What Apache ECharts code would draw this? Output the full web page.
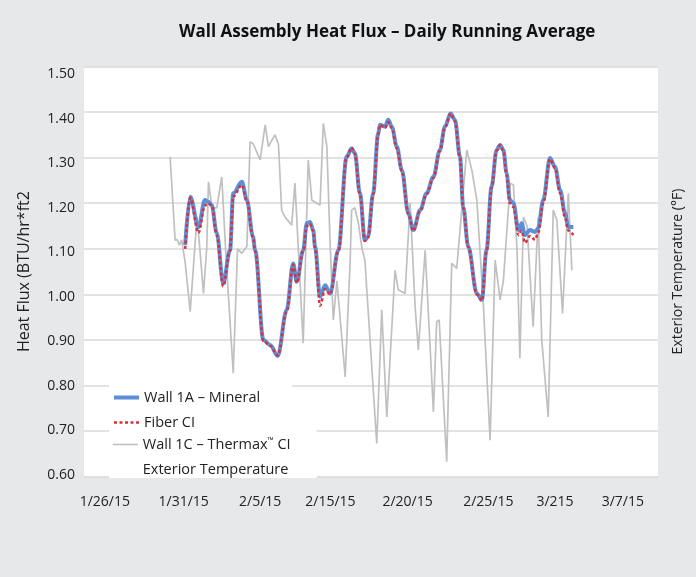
<!DOCTYPE html>
<html>
<head>
<meta charset="utf-8">
<script src="https://cdn.jsdelivr.net/npm/echarts@6/dist/echarts.min.js"></script>
<style>html,body{margin:0;padding:0;background:#e7e8ea;}#c{width:696px;height:577px;}</style>
</head>
<body>
<div id="c"></div>
<script>
// x is a running sample index (0..160) along the time axis
const xTickPos = [5.8, 27.8, 49.1, 68.7, 90.2, 112.7, 131.3, 150.2];
const xTickLabels = ['1/26/15', '1/31/15', '2/5/15', '2/15/15', '2/20/15', '2/25/15', '3/215', '3/7/15'];

const wall1aX = [28.2, 29.6, 31.9, 33.7, 34.6, 35.6, 37.0, 38.8, 40.7, 41.6, 44.0, 45.4, 47.1, 47.7, 50.0, 51.9, 54.0, 56.5, 58.3, 59.3, 61.1, 62.1, 63.0, 63.9, 64.4, 65.8, 67.2, 68.6, 70.9, 73.2, 74.6, 75.5, 76.9, 78.3, 79.2, 80.6, 82.0, 82.5, 83.9, 84.8, 85.8, 87.2, 88.6, 90.4, 91.8, 93.7, 95.5, 97.4, 99.2, 100.6, 102.2, 103.4, 104.8, 105.7, 107.1, 109.5, 110.9, 112.2, 113.6, 115.0, 116.0, 116.9, 117.8, 118.7, 119.7, 121.1, 122.0, 122.9, 124.3, 125.7, 126.6, 128.0, 129.9, 131.3, 132.7, 134.1, 135.0, 136.4];
const wall1aMineral = [1.108, 1.214, 1.148, 1.207, 1.203, 1.196, 1.135, 1.024, 1.097, 1.222, 1.247, 1.207, 1.127, 1.097, 0.900, 0.889, 0.865, 0.966, 1.068, 1.028, 1.097, 1.156, 1.159, 1.141, 1.105, 0.995, 1.020, 1.002, 1.097, 1.302, 1.320, 1.310, 1.222, 1.119, 1.127, 1.222, 1.353, 1.372, 1.368, 1.383, 1.368, 1.324, 1.273, 1.178, 1.141, 1.185, 1.222, 1.258, 1.317, 1.368, 1.397, 1.383, 1.302, 1.192, 1.105, 1.002, 0.988, 1.097, 1.236, 1.317, 1.328, 1.317, 1.266, 1.207, 1.200, 1.141, 1.156, 1.130, 1.141, 1.137, 1.145, 1.207, 1.299, 1.280, 1.229, 1.178, 1.148, 1.148];
const fiberCI = [1.100, 1.212, 1.135, 1.195, 1.200, 1.196, 1.130, 1.018, 1.095, 1.215, 1.240, 1.205, 1.125, 1.095, 0.898, 0.887, 0.866, 0.962, 1.065, 1.025, 1.095, 1.150, 1.155, 1.138, 1.100, 0.975, 1.012, 1.000, 1.095, 1.300, 1.322, 1.308, 1.220, 1.117, 1.125, 1.220, 1.350, 1.372, 1.365, 1.378, 1.365, 1.320, 1.270, 1.176, 1.139, 1.183, 1.220, 1.256, 1.315, 1.366, 1.397, 1.380, 1.300, 1.190, 1.103, 1.000, 0.986, 1.095, 1.234, 1.315, 1.328, 1.315, 1.262, 1.200, 1.192, 1.130, 1.140, 1.113, 1.128, 1.120, 1.135, 1.200, 1.297, 1.277, 1.222, 1.168, 1.140, 1.130];

const wall1cX = [24.0, 25.4, 26.0, 26.6, 27.2, 28.2, 29.6, 30.5, 31.5, 32.3, 33.3, 34.2, 34.7, 35.7, 37.0, 38.4, 39.6, 41.6, 42.8, 44.0, 45.4, 46.3, 47.2, 49.1, 50.5, 51.4, 53.2, 54.2, 55.1, 56.0, 57.9, 58.8, 61.1, 62.5, 63.5, 64.9, 65.8, 66.7, 67.7, 68.6, 69.5, 70.5, 72.8, 74.2, 74.6, 75.5, 76.5, 77.5, 78.3, 81.6, 83.0, 84.4, 86.7, 87.6, 89.5, 90.9, 92.3, 93.2, 95.1, 97.4, 98.3, 99.0, 101.1, 102.5, 103.9, 106.7, 108.1, 109.5, 111.3, 113.2, 114.6, 116.0, 116.9, 118.8, 119.7, 120.7, 121.5, 122.5, 123.5, 125.2, 126.6, 127.6, 129.4, 130.8, 131.8, 133.4, 135.0, 136.0];
const wall1cThermax = [1.302, 1.119, 1.120, 1.108, 1.120, 1.070, 0.962, 1.060, 1.170, 1.100, 1.002, 1.100, 1.247, 1.190, 1.190, 1.258, 1.080, 0.827, 1.100, 1.090, 1.105, 1.335, 1.330, 1.295, 1.372, 1.324, 1.350, 1.330, 1.185, 1.170, 1.152, 1.244, 0.893, 1.295, 1.207, 1.200, 1.196, 1.375, 1.324, 1.112, 0.944, 1.030, 0.819, 1.075, 1.185, 1.190, 1.156, 1.100, 1.075, 0.673, 0.966, 0.731, 1.053, 1.010, 1.002, 1.200, 0.973, 0.878, 1.097, 0.742, 0.940, 0.944, 0.633, 1.068, 1.057, 1.317, 1.273, 1.207, 0.980, 0.680, 1.075, 0.988, 1.030, 1.244, 1.240, 1.100, 0.860, 1.170, 1.150, 0.929, 1.170, 0.900, 0.731, 1.185, 1.163, 0.958, 1.222, 1.053];

const exteriorTemperature = [];

function pairs(xs, ys) { return xs.map((x, i) => [x, ys[i]]); }

const chart = echarts.init(document.getElementById('c'));
const FONT = 'Open Sans';
const BLUE = '#5b8fd8', RED = '#d9303c', GRAY = '#c0c0c0';
const legendCommon = {
  orient: 'vertical', left: 109,
  itemWidth: 25, itemHeight: 14, itemGap: 10,
  backgroundColor: '#ffffff',
  selectedMode: false,
  itemStyle: { opacity: 0, color: 'rgba(0,0,0,0)', borderWidth: 0 },
  formatter: name => name.replace('\u2122', '{tm|\u2122}'),
  textStyle: {
    fontSize: 14.5, color: '#222', fontFamily: FONT,
    rich: { tm: { fontSize: 8, color: '#222', fontFamily: FONT, padding: [0, 0, 7, 0] } }
  }
};
const option = {
  backgroundColor: '#e7e8ea',
  animation: false,
  textStyle: { fontFamily: FONT },
  title: {
    text: 'Wall Assembly Heat Flux \u2013 Daily Running Average',
    left: 174, top: 19,
    textStyle: { fontSize: 17, fontWeight: 'bold', color: '#111', fontFamily: FONT }
  },
  grid: [
    { left: 84, right: 38, top: 66.5, bottom: 100.3, show: true, backgroundColor: '#ffffff', borderWidth: 0 },
    { left: 84, right: 38, top: 74, bottom: 102, show: false }
  ],
  legend: [
    Object.assign({}, legendCommon, {
      data: [
        { name: 'Wall 1A \u2013 Mineral', lineStyle: { width: 4, color: BLUE } },
        { name: 'Fiber CI', lineStyle: { width: 2.5, color: RED, type: [3, 2.5] } }
      ],
      top: 385, padding: [5, 32, 5, 3]
    }),
    Object.assign({}, legendCommon, {
      data: [
        { name: 'Wall 1C \u2013 Thermax\u2122 CI', lineStyle: { width: 1.6, color: GRAY } },
        { name: 'Exterior Temperature', lineStyle: { width: 0, opacity: 0 } }
      ],
      top: 428, padding: [9, 26, 1, 3]
    })
  ],
  xAxis: [
    {
      type: 'value', gridIndex: 0, min: 0, max: 160,
      axisLine: { show: false }, axisTick: { show: false }, splitLine: { show: false },
      axisLabel: {
        customValues: xTickPos,
        formatter: function (v) {
          let best = 0;
          for (let i = 1; i < xTickPos.length; i++) if (Math.abs(xTickPos[i] - v) < Math.abs(xTickPos[best] - v)) best = i;
          return xTickLabels[best];
        },
        margin: 18, fontSize: 14, color: '#222', fontFamily: FONT
      }
    },
    { type: 'value', gridIndex: 1, min: 0, max: 1, show: false }
  ],
  yAxis: [
    {
      type: 'value', gridIndex: 0, min: 0.6, max: 1.5, interval: 0.1,
      axisLabel: { show: false }, axisLine: { show: false }, axisTick: { show: false },
      splitLine: { lineStyle: { color: '#d9d9d9', width: 1.5 } },
      name: 'Heat Flux (BTU/hr*ft2', nameLocation: 'middle', nameGap: 52,
      nameTextStyle: { fontSize: 16, color: '#222', fontFamily: FONT }
    },
    {
      type: 'value', gridIndex: 0, position: 'right', min: 0, max: 100,
      axisLabel: { show: false }, axisLine: { show: false }, axisTick: { show: false }, splitLine: { show: false },
      name: 'Exterior Temperature (\u00B0F)', nameLocation: 'middle', nameGap: 13,
      nameTextStyle: { fontSize: 14, color: '#222', fontFamily: FONT }
    },
    {
      type: 'value', gridIndex: 1, min: 0.6, max: 1.5, interval: 0.1,
      axisLine: { show: false }, axisTick: { show: false }, splitLine: { show: false },
      axisLabel: { formatter: v => v.toFixed(2), margin: 9, fontSize: 14, color: '#222', fontFamily: FONT }
    }
  ],
  series: [
    {
      name: 'Wall 1C \u2013 Thermax\u2122 CI', type: 'line', xAxisIndex: 0, yAxisIndex: 0,
      data: pairs(wall1cX, wall1cThermax), symbol: 'none', color: GRAY,
      lineStyle: { color: GRAY, width: 1.7 }, z: 2
    },
    {
      name: 'Wall 1A \u2013 Mineral', type: 'line', xAxisIndex: 0, yAxisIndex: 0,
      data: pairs(wall1aX, wall1aMineral), symbol: 'none', smooth: 0.35, smoothMonotone: 'x',
      color: BLUE, lineStyle: { color: BLUE, width: 4 }, z: 3
    },
    {
      name: 'Fiber CI', type: 'line', xAxisIndex: 0, yAxisIndex: 0,
      data: pairs(wall1aX, fiberCI), symbol: 'none', smooth: 0.35, smoothMonotone: 'x',
      color: RED, lineStyle: { color: RED, width: 2.5, type: [3, 2.5] }, z: 4
    },
    {
      name: 'Exterior Temperature', type: 'line', xAxisIndex: 0, yAxisIndex: 1,
      data: exteriorTemperature, symbol: 'none', color: 'rgba(0,0,0,0)',
      lineStyle: { color: 'rgba(0,0,0,0)', width: 0, opacity: 0 }
    }
  ]
};
chart.setOption(option);
</script>
</body>
</html>
